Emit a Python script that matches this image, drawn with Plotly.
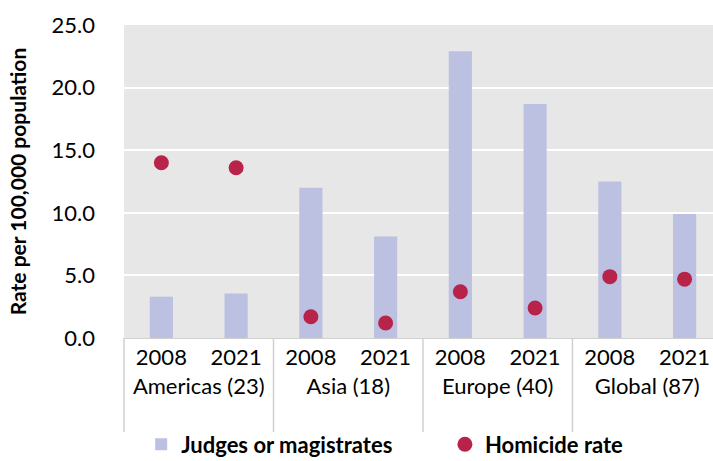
import plotly.graph_objects as go

regions = ["Americas (23)", "Americas (23)", "Asia (18)", "Asia (18)",
           "Europe (40)", "Europe (40)", "Global (87)", "Global (87)"]
years = ["2008", "2021", "2008", "2021", "2008", "2021", "2008", "2021"]
judges = [3.3, 3.55, 12.0, 8.1, 22.9, 18.7, 12.5, 9.9]
homicide = [14.0, 13.6, 1.7, 1.2, 3.7, 2.4, 4.9, 4.7]

FONT = "Lato"
X_RANGE = [-0.5, 7.38]
fig = go.Figure()
fig.add_trace(go.Bar(
    x=[regions, years], y=judges, name="Judges or magistrates",
    marker=dict(color="#bcc1e1", line=dict(width=0)), width=0.31,
    legend="legend",
))
fig.add_trace(go.Scatter(
    x=[regions, years], y=homicide, name="Homicide rate", mode="markers",
    marker=dict(color="#b8234a", size=15),
    legend="legend2",
))

# group divider lines extending through the label area
span = X_RANGE[1] - X_RANGE[0]
shapes = []
for b in [-0.5, 1.5, 3.5, 5.5]:
    xf = (b - X_RANGE[0]) / span
    shapes.append(dict(type="line", xref="paper", yref="paper", x0=xf, x1=xf,
                       y0=0, y1=-0.30, line=dict(color="#d0d0d0", width=1.5)))

leg_common = dict(orientation="h", xanchor="left", yref="container", y=0.036,
                  yanchor="middle", xref="container",
                  font=dict(family=FONT, size=22, color="black", weight="bold"),
                  itemwidth=30, bgcolor="rgba(0,0,0,0)")

fig.update_layout(
    width=713, height=461,
    margin=dict(l=124, r=0, t=25, b=123, autoexpand=False),
    paper_bgcolor="white", plot_bgcolor="#e7e7e7",
    font=dict(family=FONT, color="black", size=22),
    showlegend=True,
    shapes=shapes,
    legend=dict(x=0.198, **leg_common),
    legend2=dict(x=0.624, **leg_common),
)
fig.update_yaxes(range=[0, 25], dtick=5, tickformat=".1f", showgrid=True,
                 gridcolor="white", gridwidth=2, zeroline=False, ticks="",
                 ticklabelstandoff=28, tickfont=dict(size=22),
                 title=dict(text="Rate per 100,000 population",
                            font=dict(family=FONT, size=21, weight="bold"), standoff=19))
fig.update_xaxes(range=X_RANGE, showgrid=False, showline=True, linecolor="#d0d0d0",
                 linewidth=1, showdividers=False,
                 tickfont=dict(size=22), ticks="")
fig.write_html("out.html")
